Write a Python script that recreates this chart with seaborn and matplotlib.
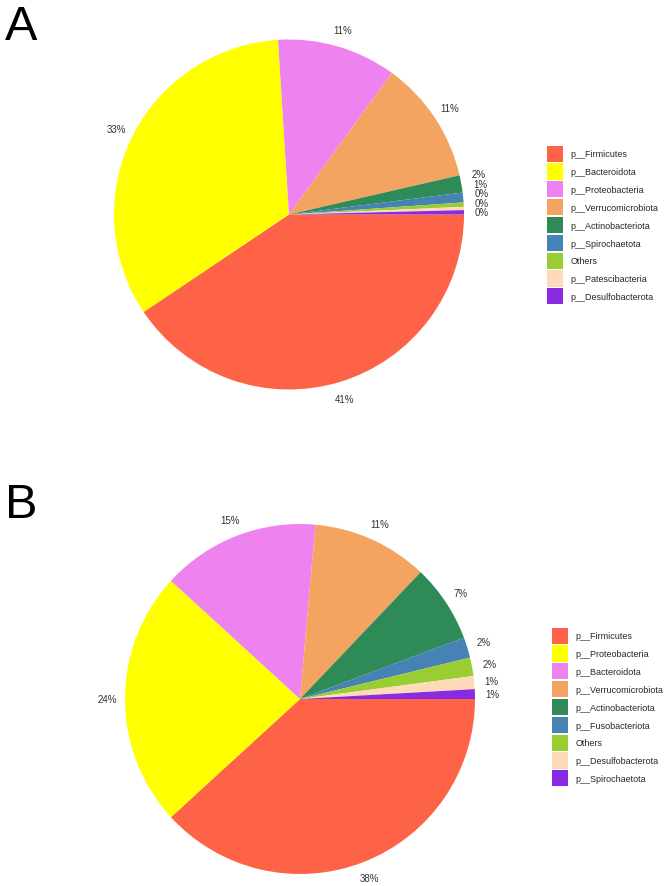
import matplotlib
matplotlib.use("Agg")
import matplotlib.pyplot as plt
import seaborn as sns
import numpy as np

sns.set_theme(style="white")
plt.rcParams['font.family'] = ['Liberation Sans', 'DejaVu Sans']

# ---- Data ----
labels_a = ["p__Firmicutes", "p__Bacteroidota", "p__Proteobacteria", "p__Verrucomicrobiota",
            "p__Actinobacteriota", "p__Spirochaetota", "Others", "p__Patescibacteria",
            "p__Desulfobacterota"]
values_a = [40.6, 33.4, 11.0, 11.4, 1.6, 0.9, 0.4, 0.3, 0.4]

labels_b = ["p__Firmicutes", "p__Proteobacteria", "p__Bacteroidota", "p__Verrucomicrobiota",
            "p__Actinobacteriota", "p__Fusobacteriota", "Others", "p__Desulfobacterota",
            "p__Spirochaetota"]
values_b = [38.2, 23.6, 14.6, 10.7, 7.2, 1.9, 1.7, 1.2, 0.9]

colors = sns.color_palette(["#FF6347", "#FFFF00", "#EE82EE", "#F4A460", "#2E8B57",
                            "#4682B4", "#9ACD32", "#FFDAB9", "#8A2BE2"])

W, H = 671, 887
fig = plt.figure(figsize=(W / 100, H / 100), dpi=100)


def px_axes(cx, cy, r):
    return fig.add_axes([(cx - r) / W, 1 - (cy + r) / H, 2 * r / W, 2 * r / H])


def spread(texts, min_gap):
    # separate crowded labels on the right side vertically
    right = [t for t in texts if t.get_position()[0] > 0]
    right.sort(key=lambda t: t.get_position()[1])
    prev = None
    for t in right:
        x, y = t.get_position()
        if prev is not None and y - prev < min_gap:
            y = prev + min_gap
            t.set_position((x, y))
        prev = y


def draw_pie(cx, cy, r, values, labels, legend_left, legend_cy, letter, letter_base):
    ax = px_axes(cx, cy, r)
    wedges, _, autotexts = ax.pie(values, colors=colors, startangle=0, counterclock=False,
                                  autopct=lambda p: f"{p:.0f}%", pctdistance=1.1,
                                  wedgeprops=dict(linewidth=0),
                                  textprops=dict(fontsize=7, color="#333333"))
    ax.set_xlim(-1, 1)
    ax.set_ylim(-1, 1)
    ax.set_aspect("equal")
    spread(autotexts, 9.5 / r)
    fig.legend(wedges, labels, loc="center left",
               bbox_to_anchor=(legend_left / W, 1 - legend_cy / H),
               frameon=False, fontsize=6.5, handlelength=1.78, handleheight=2.4,
               labelspacing=0.17, handletextpad=0.8, borderpad=0, borderaxespad=0)
    fig.text(5 / W, 1 - letter_base / H, letter, fontsize=35, va="baseline", ha="left",
             color="black")


draw_pie(289, 215.5, 175, values_a, labels_a, 547, 226, "A", 40)
draw_pie(300, 700, 175, values_b, labels_b, 552, 708, "B", 518)

fig.savefig("out.png", dpi=100)
